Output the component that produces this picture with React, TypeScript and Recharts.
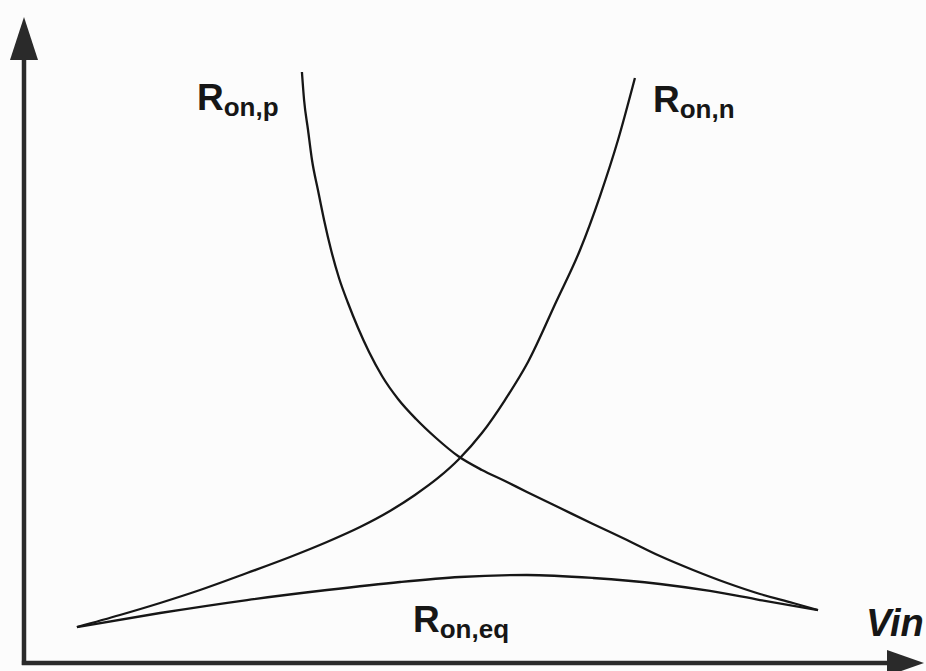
import React from 'react';
import { LineChart, Line, XAxis, YAxis, ReferenceLine, ReferenceDot } from 'recharts';

// Vin in volts (0..5), resistance in arbitrary units (0..100)
const vinP = [1.544, 1.556, 1.578, 1.6, 1.633, 1.667, 1.706, 1.75, 1.8, 1.856, 1.917, 1.989, 2.078, 2.178, 2.289, 2.411, 2.544, 2.672, 2.794, 2.978, 3.161, 3.35, 3.533, 3.717, 3.906, 4.089, 4.272, 4.411];
const ronP = [91.49, 87.15, 82.51, 77.86, 73.22, 68.58, 63.93, 59.6, 55.73, 51.86, 48.14, 44.43, 40.87, 37.77, 34.83, 32.04, 29.88, 28.17, 26.47, 23.99, 21.52, 19.04, 16.56, 14.4, 12.38, 10.68, 9.29, 8.2];

const vinN = [0.294, 0.533, 0.756, 0.978, 1.239, 1.478, 1.683, 1.867, 2.033, 2.172, 2.3, 2.417, 2.544, 2.672, 2.8, 2.956, 3.089, 3.2, 3.3, 3.394];
const ronN = [5.57, 7.43, 9.29, 11.3, 13.93, 16.41, 18.73, 21.05, 23.53, 26.01, 28.64, 31.58, 35.6, 40.71, 46.59, 55.88, 63.93, 72.29, 80.96, 90.56];

const vinEq = [0.294, 0.756, 1.239, 1.683, 2.089, 2.422, 2.794, 3.161, 3.533, 3.811, 4.089, 4.411];
const ronEq = [5.57, 7.74, 9.75, 11.3, 12.54, 13.31, 13.62, 13.16, 12.23, 11.15, 9.75, 8.2];

const toPoints = (xs: number[], ys: number[]) => xs.map((vin, i) => ({ vin, r: ys[i] }));

const dataP = toPoints(vinP, ronP);
const dataN = toPoints(vinN, ronN);
const dataEq = toPoints(vinEq, ronEq);

const INK = '#161616';
const AXIS = '#2a2a2a';
const FONT = '"Liberation Sans", Arial, Helvetica, sans-serif';

// text with a subscript, placed at the dot's position (left/baseline)
const subLabel = (main: string, sub: string) => (props: any) => (
  <text x={props.cx} y={props.cy} fill={INK} fontFamily={FONT} fontWeight="bold">
    <tspan fontSize={37}>{main}</tspan>
    <tspan fontSize={26} dy={6}>{sub}</tspan>
  </text>
);

const axisLabel = (text: string) => (props: any) => (
  <text x={props.cx} y={props.cy} fill={INK} fontFamily={FONT} fontWeight="bold" fontStyle="italic" fontSize={38}>
    {text}
  </text>
);

const upArrow = (props: any) => (
  <polygon
    points={`${props.cx},${props.cy} ${props.cx - 14},${props.cy + 43} ${props.cx + 14},${props.cy + 43}`}
    fill={AXIS}
  />
);

const rightArrow = (props: any) => (
  <polygon
    points={`${props.cx},${props.cy} ${props.cx - 37},${props.cy - 13} ${props.cx - 37},${props.cy + 13}`}
    fill={AXIS}
  />
);

export default function App() {
  return (
    <div style={{ position: 'absolute', left: 0, top: 0, width: 926, height: 671, background: '#fcfcfc', overflow: 'hidden' }}>
      <LineChart width={926} height={671} margin={{ top: 17, right: 2, bottom: 8, left: 24 }}>
        <XAxis type="number" dataKey="vin" domain={[0, 5]} hide />
        <YAxis type="number" dataKey="r" domain={[0, 100]} hide />

        {/* axes with arrow heads */}
        <ReferenceLine segment={[{ x: 0, y: -0.3 }, { x: 0, y: 94 }]} stroke={AXIS} strokeWidth={4.5} ifOverflow="visible" />
        <ReferenceLine segment={[{ x: -0.012, y: 0 }, { x: 4.8, y: 0 }]} stroke={AXIS} strokeWidth={4.5} ifOverflow="visible" />
        <ReferenceDot x={0} y={100} r={0} shape={upArrow} ifOverflow="visible" />
        <ReferenceDot x={5} y={0} r={0} shape={rightArrow} ifOverflow="visible" />

        <Line data={dataP} dataKey="r" type="monotone" stroke={INK} strokeWidth={2.3} dot={false} activeDot={false} isAnimationActive={false} />
        <Line data={dataN} dataKey="r" type="monotone" stroke={INK} strokeWidth={2.3} dot={false} activeDot={false} isAnimationActive={false} />
        <Line data={dataEq} dataKey="r" type="monotone" stroke={INK} strokeWidth={2.3} dot={false} activeDot={false} isAnimationActive={false} />

        <ReferenceDot x={0.961} y={85.6} r={0} shape={subLabel('R', 'on,p')} ifOverflow="visible" />
        <ReferenceDot x={3.494} y={85.3} r={0} shape={subLabel('R', 'on,n')} ifOverflow="visible" />
        <ReferenceDot x={2.161} y={4.8} r={0} shape={subLabel('R', 'on,eq')} ifOverflow="visible" />
        <ReferenceDot x={4.678} y={4.2} r={0} shape={axisLabel('Vin')} ifOverflow="visible" />
      </LineChart>
    </div>
  );
}
